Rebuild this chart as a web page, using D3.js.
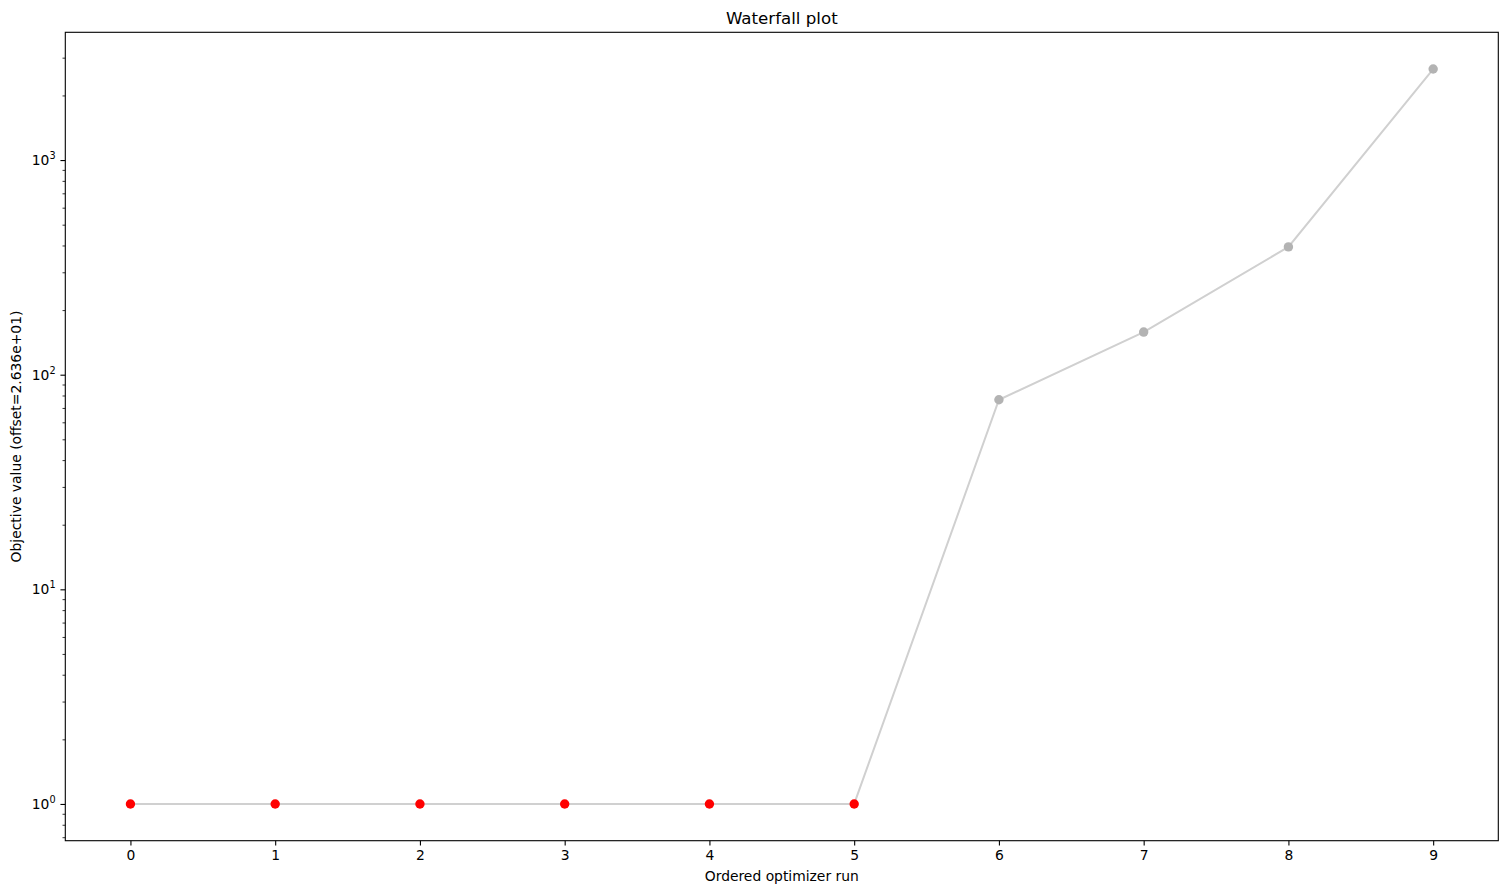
<!DOCTYPE html>
<html>
<head>
<meta charset="utf-8">
<script src="https://cdn.jsdelivr.net/npm/d3@7"></script>
<style>
  html, body { margin: 0; padding: 0; background: #fff; }
  svg { display: block; font-family: "DejaVu Sans", sans-serif; }
</style>
</head>
<body>
<svg id="chart" width="1508" height="894"></svg>
<script>
// ---- data ----
const runs = [0, 1, 2, 3, 4, 5, 6, 7, 8, 9];
const objectiveValues = [1, 1, 1, 1, 1, 1, 76.4, 158, 394, 2655];
const bestCluster = [true, true, true, true, true, true, false, false, false, false];
const xTickLabels = ["0", "1", "2", "3", "4", "5", "6", "7", "8", "9"];
const yDecades = [0, 1, 2, 3];
const titleText = "Waterfall plot";
const xLabelText = "Ordered optimizer run";
const yLabelText = "Objective value (offset=2.636e+01)";

(function () {
// ---- layout ----
const plotL = 65.3, plotR = 1498.3, plotT = 32.3, plotB = 840.7;
const fontPx = 13.89;

const svg = d3.select("#chart");

// scales with matplotlib-like 5% margins
const xMin = d3.min(runs), xMax = d3.max(runs);
const xPad = (xMax - xMin) * 0.05;
const x = d3.scaleLinear().domain([xMin - xPad, xMax + xPad]).range([plotL, plotR]);

const lMin = Math.log10(d3.min(objectiveValues)), lMax = Math.log10(d3.max(objectiveValues));
const lPad = (lMax - lMin) * 0.05;
const y = d3.scaleLog().domain([Math.pow(10, lMin - lPad), Math.pow(10, lMax + lPad)]).range([plotB, plotT]);

// line
const line = d3.line().x((d, i) => x(runs[i])).y(d => y(d));
svg.append("path")
  .datum(objectiveValues)
  .attr("d", line)
  .attr("fill", "none")
  .attr("stroke", "#d0d0d0")
  .attr("stroke-width", 2);

// points
svg.append("g").selectAll("circle")
  .data(objectiveValues)
  .join("circle")
  .attr("cx", (d, i) => x(runs[i]))
  .attr("cy", d => y(d))
  .attr("r", 4.7)
  .attr("fill", (d, i) => bestCluster[i] ? "#ff0000" : "#b3b3b3");

// frame
svg.append("rect")
  .attr("x", plotL).attr("y", plotT)
  .attr("width", plotR - plotL).attr("height", plotB - plotT)
  .attr("fill", "none").attr("stroke", "#000").attr("stroke-width", 1.1);

// x axis
const xAxis = d3.axisBottom(x)
  .tickValues(runs)
  .tickFormat((d, i) => xTickLabels[i])
  .tickSize(4.86).tickPadding(4.86);
const gx = svg.append("g").attr("transform", `translate(0,${plotB})`).call(xAxis);
gx.select(".domain").remove();
gx.selectAll("line").attr("stroke", "#000").attr("stroke-width", 1.1);
gx.selectAll("text").attr("fill", "#000").attr("font-size", fontPx).attr("font-family", "DejaVu Sans");

// y axis: major ticks
const majorVals = yDecades.map(e => Math.pow(10, e));
const yAxis = d3.axisLeft(y).tickValues(majorVals).tickFormat("").tickSize(4.86);
const gy = svg.append("g").attr("transform", `translate(${plotL},0)`).call(yAxis);
gy.select(".domain").remove();
gy.selectAll("line").attr("stroke", "#000").attr("stroke-width", 1.1);

// minor ticks
const [d0, d1] = y.domain();
const minorVals = [];
for (let e = Math.floor(Math.log10(d0)); e <= Math.ceil(Math.log10(d1)); e++) {
  for (let m = 2; m <= 9; m++) {
    const v = m * Math.pow(10, e);
    if (v >= d0 && v <= d1) minorVals.push(v);
  }
}
const yMinor = d3.axisLeft(y).tickValues(minorVals).tickFormat("").tickSize(2.78);
const gym = svg.append("g").attr("transform", `translate(${plotL},0)`).call(yMinor);
gym.select(".domain").remove();
gym.selectAll("line").attr("stroke", "#000").attr("stroke-width", 0.8);

// major tick labels with superscript
const labels = svg.append("g");
yDecades.forEach(e => {
  const t = labels.append("text")
    .attr("x", plotL - 4.86 - 4.86)
    .attr("y", y(Math.pow(10, e)) + 5)
    .attr("text-anchor", "end")
    .attr("font-size", fontPx)
    .attr("fill", "#000");
  t.append("tspan").text("10");
  t.append("tspan").attr("font-size", 9.7).attr("dy", -6).text(String(e));
});

// title
svg.append("text")
  .attr("x", (plotL + plotR) / 2).attr("y", 23.5)
  .attr("text-anchor", "middle")
  .attr("font-size", 16.67)
  .attr("fill", "#000")
  .text(titleText);

// x label
svg.append("text")
  .attr("x", (plotL + plotR) / 2).attr("y", 881)
  .attr("text-anchor", "middle")
  .attr("font-size", fontPx)
  .attr("fill", "#000")
  .text(xLabelText);

// y label
svg.append("text")
  .attr("transform", `translate(21,${(plotT + plotB) / 2}) rotate(-90)`)
  .attr("text-anchor", "middle")
  .attr("font-size", fontPx)
  .attr("fill", "#000")
  .text(yLabelText);
})();
</script>
</body>
</html>
